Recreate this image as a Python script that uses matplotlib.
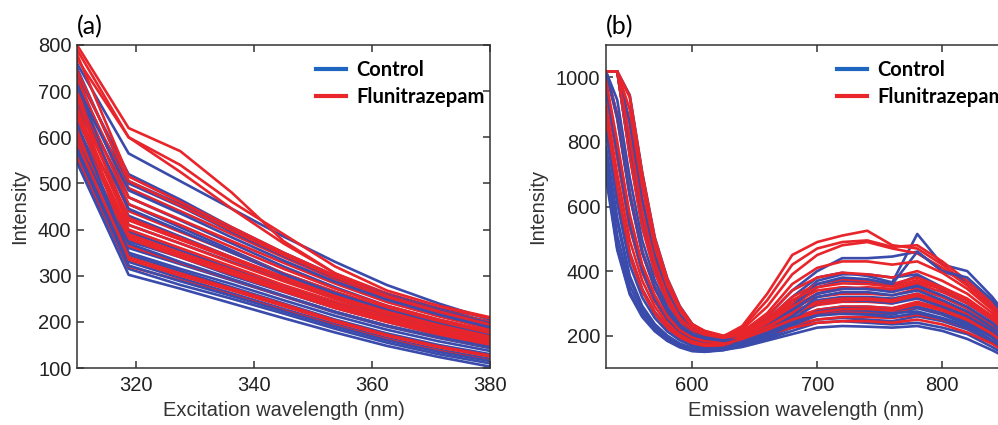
import matplotlib.pyplot as plt
from matplotlib.lines import Line2D

# (a) excitation spectra
ex_x = [310, 318.75, 327.5, 336.25, 345, 353.75, 362.5, 371.25, 380]

ex_control = [
    [760, 565, 505, 445, 385, 330, 280, 240, 205],
    [735, 520, 465, 405, 350, 300, 260, 228, 200],
    [700, 505, 455, 400, 345, 295, 255, 222, 195],
    [690, 470, 420, 370, 320, 275, 235, 205, 180],
    [665, 455, 405, 355, 305, 265, 230, 200, 175],
    [640, 430, 385, 340, 295, 255, 220, 190, 165],
    [720, 410, 370, 330, 290, 250, 215, 185, 160],
    [625, 395, 355, 315, 275, 240, 210, 180, 155],
    [650, 375, 340, 300, 265, 230, 200, 172, 150],
    [600, 360, 325, 290, 255, 220, 190, 165, 143],
    [610, 345, 310, 275, 240, 205, 175, 150, 130],
    [580, 330, 295, 262, 228, 195, 165, 140, 120],
    [555, 315, 280, 250, 218, 185, 155, 130, 110],
    [545, 302, 272, 240, 208, 177, 148, 124, 103],
    [590, 370, 330, 293, 257, 222, 192, 167, 145],
    [750, 500, 450, 395, 343, 296, 257, 225, 197],
    [680, 445, 398, 350, 303, 262, 226, 196, 170],
    [630, 350, 315, 282, 247, 213, 183, 158, 137],
    [710, 485, 435, 383, 333, 287, 248, 216, 188],
    [570, 322, 288, 256, 223, 190, 160, 135, 115],
]

ex_fluni = [
    [800, 620, 570, 480, 375, 305, 262, 230, 208],
    [790, 600, 540, 460, 390, 320, 268, 235, 210],
    [770, 600, 525, 445, 370, 305, 258, 225, 200],
    [780, 515, 460, 405, 350, 300, 258, 225, 195],
    [720, 490, 440, 390, 340, 292, 252, 220, 192],
    [705, 455, 410, 362, 315, 272, 235, 205, 180],
    [690, 440, 395, 350, 305, 265, 230, 200, 175],
    [675, 425, 382, 340, 298, 258, 225, 196, 170],
    [660, 410, 370, 328, 288, 250, 218, 190, 165],
    [640, 400, 360, 320, 280, 244, 212, 185, 160],
    [620, 390, 350, 312, 274, 238, 207, 180, 155],
    [600, 380, 340, 303, 266, 230, 200, 173, 150],
    [615, 365, 328, 292, 256, 222, 192, 167, 145],
    [560, 320, 290, 258, 225, 192, 162, 137, 116],
    [700, 335, 300, 268, 234, 200, 170, 145, 125],
    [730, 470, 422, 375, 328, 283, 243, 212, 185],
    [745, 505, 452, 398, 345, 297, 256, 223, 194],
    [685, 420, 378, 336, 294, 255, 222, 193, 168],
    [650, 385, 345, 308, 270, 234, 203, 176, 152],
    [590, 340, 305, 272, 238, 203, 172, 147, 127],
]

# (b) emission spectra
em_x = [531, 540, 550, 560, 570, 580, 590, 600, 610, 625, 640, 660,
        680, 700, 720, 740, 760, 780, 800, 820, 840, 860]

em_control = [
    [1018, 1018, 765, 545, 405, 310, 248, 212, 198, 190, 200, 250, 320, 380, 395, 385, 365, 515, 420, 400, 320, 220],
    [1018, 885, 645, 462, 352, 278, 228, 202, 190, 183, 205, 260, 340, 400, 440, 440, 445, 460, 400, 370, 300, 210],
    [955, 755, 538, 398, 308, 248, 210, 188, 177, 172, 200, 240, 300, 370, 390, 390, 380, 390, 350, 310, 260, 190],
    [1018, 1018, 945, 705, 505, 378, 292, 236, 212, 196, 195, 235, 290, 350, 370, 365, 355, 385, 340, 300, 250, 180],
    [865, 645, 448, 338, 268, 224, 194, 174, 165, 166, 190, 225, 275, 330, 350, 345, 340, 350, 320, 285, 235, 170],
    [785, 565, 385, 292, 236, 200, 176, 161, 156, 160, 185, 215, 260, 310, 320, 320, 315, 330, 300, 265, 220, 160],
    [705, 472, 332, 262, 216, 186, 166, 154, 151, 157, 180, 205, 245, 280, 290, 290, 285, 300, 280, 250, 205, 150],
    [880, 660, 458, 345, 274, 228, 197, 176, 166, 165, 175, 200, 235, 265, 275, 270, 265, 285, 265, 235, 195, 140],
    [690, 465, 328, 258, 214, 184, 164, 152, 150, 155, 170, 195, 225, 250, 255, 250, 245, 260, 245, 220, 180, 130],
    [770, 552, 375, 288, 234, 199, 174, 159, 154, 158, 168, 190, 215, 240, 245, 240, 235, 240, 225, 205, 165, 120],
    [720, 480, 336, 265, 218, 187, 167, 155, 152, 156, 165, 185, 205, 225, 230, 228, 225, 230, 215, 190, 155, 115],
    [1018, 1018, 862, 622, 452, 342, 266, 222, 202, 191, 190, 230, 290, 360, 380, 375, 360, 460, 400, 380, 310, 215],
    [965, 765, 545, 402, 312, 252, 212, 190, 179, 174, 172, 198, 230, 270, 280, 278, 270, 275, 255, 230, 185, 135],
    [1018, 875, 635, 458, 348, 274, 224, 199, 187, 181, 178, 210, 250, 300, 310, 308, 300, 315, 290, 260, 215, 150],
    [1018, 1018, 800, 575, 425, 322, 256, 216, 199, 188, 192, 228, 280, 330, 345, 345, 335, 355, 325, 290, 240, 165],
    [830, 610, 420, 318, 255, 213, 186, 168, 160, 162, 178, 205, 240, 275, 285, 283, 278, 290, 270, 240, 198, 140],
    [1018, 930, 690, 495, 372, 288, 234, 205, 192, 184, 186, 215, 260, 320, 335, 335, 325, 340, 310, 275, 225, 160],
    [740, 510, 355, 276, 226, 193, 171, 158, 154, 158, 172, 200, 235, 262, 268, 265, 258, 270, 252, 225, 185, 130],
]

em_fluni = [
    [1018, 1018, 858, 618, 448, 338, 264, 225, 210, 198, 230, 330, 450, 490, 510, 525, 480, 470, 420, 360, 290, 200],
    [1018, 1018, 758, 538, 398, 304, 246, 215, 202, 192, 225, 310, 420, 470, 490, 495, 475, 480, 430, 370, 300, 210],
    [1018, 1018, 938, 698, 498, 372, 288, 234, 215, 200, 220, 290, 390, 450, 480, 490, 470, 455, 410, 355, 285, 200],
    [1018, 878, 642, 462, 352, 276, 226, 202, 192, 188, 215, 260, 340, 380, 395, 390, 380, 400, 370, 330, 270, 190],
    [1018, 1018, 762, 542, 402, 306, 247, 212, 198, 190, 210, 250, 320, 360, 375, 370, 360, 380, 350, 315, 260, 185],
    [958, 758, 542, 402, 312, 252, 212, 192, 182, 180, 205, 240, 300, 340, 350, 345, 340, 360, 335, 300, 250, 180],
    [1018, 1018, 855, 615, 446, 336, 262, 218, 200, 192, 200, 235, 285, 320, 330, 330, 325, 345, 320, 285, 240, 170],
    [1018, 882, 638, 458, 348, 272, 224, 200, 190, 186, 198, 230, 275, 305, 315, 315, 310, 330, 305, 275, 230, 165],
    [1018, 1018, 755, 535, 396, 302, 243, 208, 194, 187, 195, 225, 265, 295, 305, 305, 300, 320, 295, 265, 220, 160],
    [950, 750, 535, 396, 306, 248, 208, 188, 178, 176, 192, 220, 255, 280, 290, 290, 285, 305, 285, 255, 210, 150],
    [860, 642, 446, 338, 268, 223, 194, 176, 168, 170, 190, 215, 245, 265, 275, 275, 270, 290, 270, 245, 200, 145],
    [1018, 870, 632, 455, 346, 272, 223, 198, 186, 182, 188, 210, 235, 250, 258, 258, 255, 265, 250, 225, 185, 135],
    [875, 655, 455, 342, 272, 226, 196, 178, 170, 172, 185, 205, 225, 240, 245, 245, 240, 250, 235, 210, 175, 125],
    [1018, 1018, 942, 702, 502, 376, 290, 236, 214, 198, 200, 240, 290, 330, 345, 350, 345, 365, 345, 310, 255, 175],
    [1018, 1018, 810, 580, 425, 322, 255, 218, 203, 193, 205, 245, 310, 350, 362, 360, 352, 372, 345, 310, 255, 180],
    [990, 800, 575, 420, 325, 260, 217, 194, 183, 180, 196, 228, 270, 300, 310, 312, 305, 325, 300, 270, 225, 160],
    [1018, 1018, 900, 660, 475, 355, 278, 228, 208, 195, 212, 270, 360, 410, 430, 430, 420, 430, 395, 345, 280, 195],
    [910, 700, 495, 370, 290, 237, 203, 182, 173, 174, 190, 218, 250, 272, 282, 283, 278, 298, 278, 250, 205, 148],
]

blue = '#3a4bab'
red = '#e8252b'
leg_blue = '#1f66c1'
tick_font = 'Liberation Sans'
title_font = 'Lato'

W, H = 998, 425
fig = plt.figure(figsize=(W / 100, H / 100), dpi=100)


def px_axes(left, top, right, bottom):
    return fig.add_axes([left / W, 1 - bottom / H, (right - left) / W, (bottom - top) / H])


def style(ax):
    for s in ax.spines.values():
        s.set_linewidth(1.1)
        s.set_color('#333333')
    ax.tick_params(direction='in', top=True, right=True, length=5, width=1.1,
                   color='#333333', labelsize=14.5, pad=6)
    ax.tick_params(axis='y', pad=4)
    for lab in ax.get_xticklabels() + ax.get_yticklabels():
        lab.set_fontfamily(tick_font)
        lab.set_color('#222222')


def draw(ax, xs, ctrl, flu):
    n = max(len(ctrl), len(flu))
    for i in range(n):
        if i < len(ctrl):
            ax.plot(xs, ctrl[i], color=blue, lw=1.9)
        if i < len(flu):
            ax.plot(xs, flu[i], color=red, lw=1.9)
    handles = [Line2D([0], [0], color=leg_blue, lw=3),
               Line2D([0], [0], color=red, lw=3)]
    return handles


# panel (a)
ax1 = px_axes(77, 45, 490, 368)
h = draw(ax1, ex_x, ex_control, ex_fluni)
ax1.set_xlim(310, 380)
ax1.set_ylim(100, 800)
ax1.set_xticks([320, 340, 360, 380])
ax1.set_yticks(range(100, 801, 100))
style(ax1)
ax1.set_xlabel('Excitation wavelength (nm)', fontsize=14.5, family=tick_font, color='#333333', labelpad=4)
ax1.set_ylabel('Intensity', fontsize=14.5, family=tick_font, color='#333333', labelpad=6)
ax1.legend(h, ['Control', 'Flunitrazepam'], loc='upper left', bbox_to_anchor=(0.555, 0.985),
           frameon=False, borderpad=0, handlelength=1.5, handletextpad=0.5, labelspacing=0.35,
           prop={'family': title_font, 'weight': 'bold', 'size': 14.5})
fig.text(77 / W, 1 - 27 / H, '(a)', family=title_font, fontsize=18, va='center', ha='left')

# panel (b)
ax2 = px_axes(606, 45, 1006, 368)
h = draw(ax2, em_x, em_control, em_fluni)
ax2.set_xlim(531, 851)
ax2.set_ylim(100, 1100)
ax2.set_xticks([600, 700, 800])
ax2.set_yticks([200, 400, 600, 800, 1000])
style(ax2)
ax2.set_xlabel('Emission wavelength (nm)', fontsize=14.5, family=tick_font, color='#333333', labelpad=4)
ax2.set_ylabel('Intensity', fontsize=14.5, family=tick_font, color='#333333', labelpad=6)
ax2.legend(h, ['Control', 'Flunitrazepam'], loc='upper left', bbox_to_anchor=(0.5525, 0.985),
           frameon=False, borderpad=0, handlelength=1.5, handletextpad=0.5, labelspacing=0.35,
           prop={'family': title_font, 'weight': 'bold', 'size': 14.5})
fig.text(606 / W, 1 - 27 / H, '(b)', family=title_font, fontsize=18, va='center', ha='left')

fig.savefig('out.png', dpi=100)
